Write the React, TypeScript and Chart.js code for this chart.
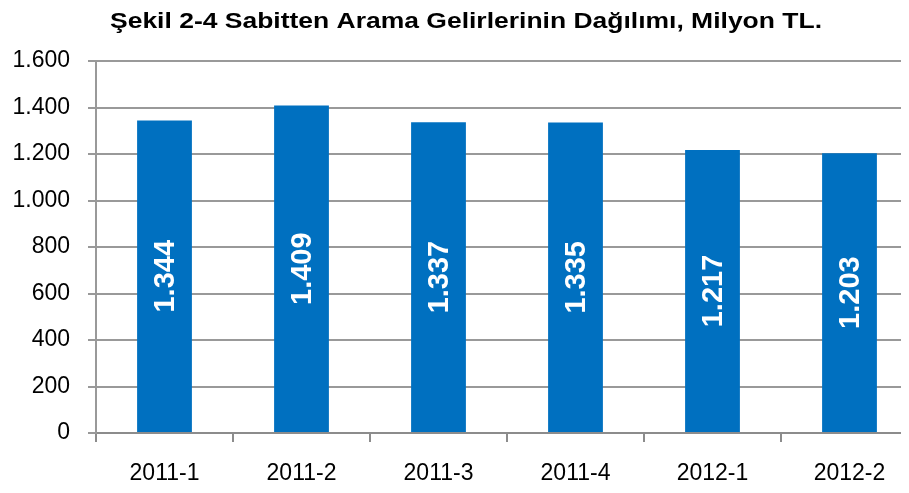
import React, { useEffect, useRef } from "react";
import { Chart, registerables } from "chart.js";

Chart.register(...registerables);

const categories = ["2011-1", "2011-2", "2011-3", "2011-4", "2012-1", "2012-2"];
const revenues = [1344, 1409, 1337, 1335, 1217, 1203];
const yTicks = [0, 200, 400, 600, 800, 1000, 1200, 1400, 1600];
const titleText = "Şekil 2-4 Sabitten Arama Gelirlerinin Dağılımı, Milyon TL.";

const FONT = "'Liberation Sans', Arial, sans-serif";

const fmt = (v: number) => {
  const s = Math.round(v).toString();
  return s.replace(/\B(?=(\d{3})+(?!\d))/g, ".");
};

const barLabels = {
  id: "barLabels",
  afterDatasetsDraw(chart: any) {
    const ctx = chart.ctx;
    const meta = chart.getDatasetMeta(0);
    const data = chart.data.datasets[0].data;
    ctx.save();
    ctx.fillStyle = "#ffffff";
    ctx.font = `bold 29px ${FONT}`;
    ctx.textAlign = "center";
    ctx.textBaseline = "middle";
    meta.data.forEach((el: any, i: number) => {
      const cy = (el.y + el.base) / 2;
      ctx.save();
      ctx.translate(el.x, cy);
      ctx.rotate(-Math.PI / 2);
      ctx.fillText(fmt(data[i]), 0, 1);
      ctx.restore();
    });
    ctx.restore();
  },
};

const stretchedTitle = {
  id: "stretchedTitle",
  afterDraw(chart: any) {
    const ctx = chart.ctx;
    ctx.save();
    ctx.fillStyle = "#000";
    ctx.font = `bold 22px ${FONT}`;
    ctx.textAlign = "center";
    ctx.textBaseline = "alphabetic";
    const w = ctx.measureText(titleText).width;
    const target = 712;
    ctx.translate(458, 20);
    ctx.scale(target / w, 1);
    ctx.fillText(titleText, 0, 0);
    ctx.restore();
  },
};

export default function App() {
  const ref = useRef<HTMLCanvasElement>(null);
  useEffect(() => {
    if (!ref.current) return;
    const chart = new Chart(ref.current, {
      type: "bar",
      data: {
        labels: categories,
        datasets: [
          {
            data: revenues,
            backgroundColor: "#0070C0",
            barPercentage: 0.8,
            categoryPercentage: 0.5,
          },
        ],
      },
      options: {
        responsive: false,
        animation: false,
        layout: { padding: { left: 0, right: 24, top: 53, bottom: 0 } },
        plugins: {
          legend: { display: false },
          tooltip: { enabled: false },
          title: { display: false },
        },
        scales: {
          x: {
            afterFit: (axis: any) => {
              axis.height = 60;
            },
            grid: {
              display: true,
              drawOnChartArea: false,
              drawTicks: true,
              tickLength: 9,
              color: "#8c8c8c",
              lineWidth: 2,
              offset: true,
            },
            border: { display: true, color: "#8c8c8c", width: 2 },
            ticks: {
              color: "#000",
              padding: 18,
              font: { family: FONT, size: 23 },
              maxRotation: 0,
            },
          },
          y: {
            min: 0,
            max: 1600,
            afterFit: (axis: any) => {
              axis.width = 88;
            },
            afterBuildTicks: (axis: any) => {
              axis.ticks = yTicks.map((v) => ({ value: v }));
            },
            grid: {
              color: "#999999",
              lineWidth: 2,
              tickLength: 8,
            },
            border: { display: true, color: "#999999", width: 2 },
            ticks: {
              color: "#000",
              padding: 18,
              font: { family: FONT, size: 23 },
              callback: (v: any) => fmt(Number(v)),
            },
          },
        },
      },
      plugins: [barLabels, stretchedTitle],
    });
    return () => chart.destroy();
  }, []);
  return (
    <div style={{ width: 901, height: 485, overflow: "hidden", position: "relative" }}>
      <canvas ref={ref} width={934} height={485} style={{ display: "block", width: 934, height: 485 }} />
    </div>
  );
}
